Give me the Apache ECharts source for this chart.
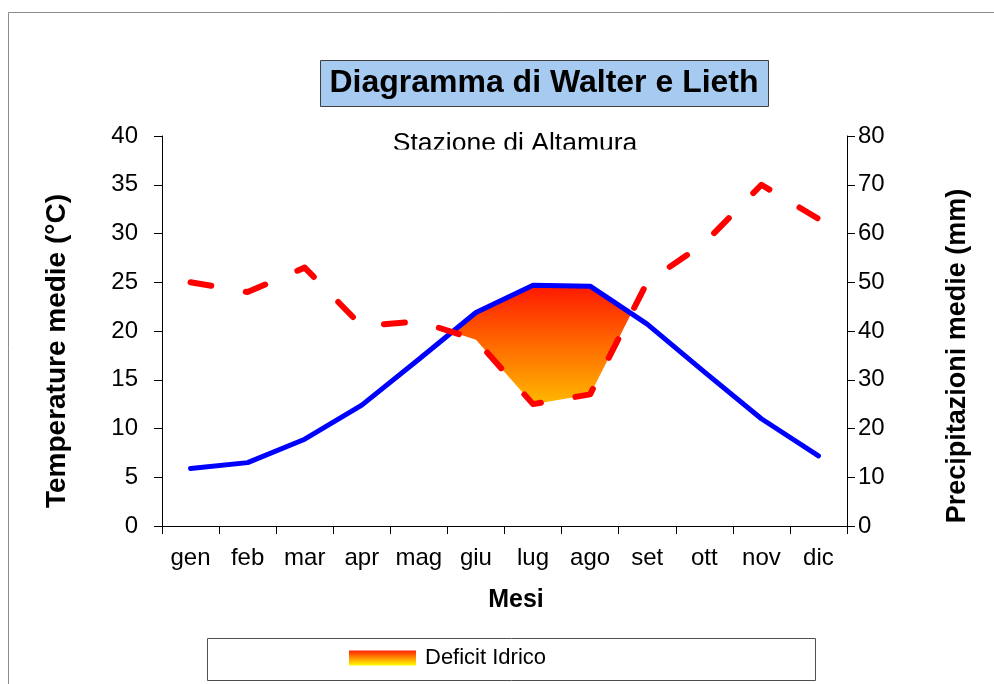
<!DOCTYPE html>
<html>
<head>
<meta charset="utf-8">
<script src="https://cdn.jsdelivr.net/npm/echarts@6/dist/echarts.min.js"></script>
<style>
  html, body { margin: 0; padding: 0; background: #fff; }
  #chart { width: 994px; height: 684px; }
</style>
</head>
<body>
<div id="chart"></div>
<script>
var months = ['gen', 'feb', 'mar', 'apr', 'mag', 'giu', 'lug', 'ago', 'set', 'ott', 'nov', 'dic'];
var temperature = [5.9, 6.5, 8.9, 12.4, 17.1, 21.9, 24.7, 24.6, 20.7, 15.8, 11.0, 7.2];
var precipitation = [50, 48, 53, 41, 42, 38.2, 25, 27, 50, 58, 70, 63];
var tempTicks = { min: 0, max: 40, interval: 5 };
var precTicks = { min: 0, max: 80, interval: 10 };

var FONT = '"Liberation Sans", Arial, sans-serif';

var fillGradient = {
  type: 'linear', x: 0, y: 0, x2: 0, y2: 1,
  colorStops: [
    { offset: 0, color: '#FF1800' },
    { offset: 0.5, color: '#FF6A00' },
    { offset: 1, color: '#FFB800' }
  ]
};
var legendGradient = {
  type: 'linear', x: 0, y: 0, x2: 0, y2: 1,
  colorStops: [
    { offset: 0, color: '#FF2000' },
    { offset: 0.5, color: '#FF9000' },
    { offset: 1, color: '#FFFF00' }
  ]
};

function renderDeficit(params, api) {
  var n = months.length;
  var T = [], P = [];
  for (var i = 0; i < n; i++) {
    T.push(api.coord([i, temperature[i]]));
    P.push(api.coord([i, precipitation[i] / 2]));
  }
  var polys = [];
  var cur = null;
  for (var j = 0; j < n; j++) {
    var d = P[j][1] - T[j][1];
    if (j > 0) {
      var dp = P[j - 1][1] - T[j - 1][1];
      if ((dp > 0) !== (d > 0)) {
        var t = dp / (dp - d);
        var cx = T[j - 1][0] + t * (T[j][0] - T[j - 1][0]);
        var cy = T[j - 1][1] + t * (T[j][1] - T[j - 1][1]);
        if (cur) { cur.top.push([cx, cy]); polys.push(cur); cur = null; }
        else { cur = { top: [[cx, cy]], bot: [] }; }
      }
    }
    if (d > 0) {
      if (!cur) cur = { top: [], bot: [] };
      cur.top.push(T[j]);
      cur.bot.push(P[j]);
    }
  }
  if (cur) polys.push(cur);
  var children = polys.map(function (p) {
    var pts = p.top.concat(p.bot.slice().reverse());
    return {
      type: 'polygon',
      shape: { points: pts },
      style: { fill: fillGradient, stroke: null }
    };
  });
  return { type: 'group', children: children };
}

var chart = echarts.init(document.getElementById('chart'), null, { renderer: 'canvas' });

var option = {
  animation: false,
  backgroundColor: '#fff',
  textStyle: { fontFamily: FONT },
  title: {
    text: 'Diagramma di Walter e Lieth',
    left: 544,
    top: 67,
    textAlign: 'center',
    padding: 0,
    textStyle: { fontFamily: FONT, fontSize: 32, fontWeight: 'bold', color: '#000' }
  },
  legend: {
    data: [{ name: 'Deficit Idrico', icon: 'rect', itemStyle: { color: legendGradient } }],
    left: 349,
    top: 646,
    padding: 0,
    itemWidth: 67,
    itemHeight: 15,
    selectedMode: false,
    textStyle: { fontFamily: FONT, fontSize: 22, color: '#000', lineHeight: 24, padding: [0, 0, 0, 4] }
  },
  grid: { left: 162, right: 147, top: 136, bottom: 158, containLabel: false },
  xAxis: {
    type: 'category',
    data: months,
    boundaryGap: true,
    axisLine: { lineStyle: { color: '#000', width: 1 } },
    axisTick: { show: true, interval: 0, length: 8, inside: false, lineStyle: { color: '#000' } },
    axisLabel: { interval: 0, fontFamily: FONT, fontSize: 24, color: '#000', margin: 20 },
    splitLine: { show: false }
  },
  yAxis: [
    {
      type: 'value',
      min: tempTicks.min, max: tempTicks.max, interval: tempTicks.interval,
      position: 'left',
      axisLine: { show: true, lineStyle: { color: '#000', width: 1 } },
      axisTick: { show: true, length: 8, inside: false, lineStyle: { color: '#000' } },
      axisLabel: { fontFamily: FONT, fontSize: 24, color: '#000', margin: 24 },
      splitLine: { show: false }
    },
    {
      type: 'value',
      min: precTicks.min, max: precTicks.max, interval: precTicks.interval,
      position: 'right',
      axisLine: { show: true, lineStyle: { color: '#000', width: 1 } },
      axisTick: { show: true, length: 8, inside: false, lineStyle: { color: '#000' } },
      axisLabel: { fontFamily: FONT, fontSize: 24, color: '#000', margin: 11 },
      splitLine: { show: false }
    }
  ],
  series: [
    {
      name: 'Deficit Idrico',
      type: 'custom',
      xAxisIndex: 0,
      yAxisIndex: 0,
      silent: true,
      z: 2,
      itemStyle: { color: legendGradient },
      renderItem: renderDeficit,
      data: [[0, 0]]
    },
    {
      name: 'Temperature medie',
      type: 'line',
      yAxisIndex: 0,
      data: temperature,
      symbol: 'none',
      z: 3,
      lineStyle: { color: '#0000FF', width: 5, cap: 'round', join: 'round' }
    },
    {
      name: 'Precipitazioni medie',
      type: 'line',
      yAxisIndex: 1,
      data: precipitation,
      symbol: 'none',
      z: 4,
      lineStyle: { color: '#FF0000', width: 6, type: [21, 35], cap: 'round', join: 'round' }
    }
  ],
  graphic: [
    { type: 'rect', z: 0, shape: { x: 8.5, y: 12.5, width: 1000, height: 700 }, style: { fill: null, stroke: '#8c8c8c', lineWidth: 1 }, silent: true },
    { type: 'rect', z: 0, shape: { x: 320.5, y: 60.5, width: 448, height: 46 }, style: { fill: '#A6CAF0', stroke: '#404040', lineWidth: 1 }, silent: true },
    { type: 'rect', z: 0, shape: { x: 207.5, y: 638.5, width: 608, height: 42 }, style: { fill: '#fff', stroke: '#505050', lineWidth: 1 }, silent: true },
    { type: 'text', z: 0, x: 515, y: 130, style: { text: 'Stazione di Altamura', fontFamily: FONT, fontSize: 26.5, fill: '#000', textAlign: 'center', textVerticalAlign: 'top' }, silent: true },
    { type: 'rect', z: 1, shape: { x: 370, y: 149.5, width: 290, height: 16 }, style: { fill: '#ffffff', stroke: null }, silent: true },
    { type: 'text', z: 0, x: 57, y: 351, rotation: Math.PI / 2, style: { text: 'Temperature medie (°C)', fontFamily: FONT, fontSize: 28, fontWeight: 'bold', fill: '#000', textAlign: 'center', textVerticalAlign: 'middle' }, silent: true },
    { type: 'text', z: 0, x: 958, y: 356, rotation: Math.PI / 2, style: { text: 'Precipitazioni medie (mm)', fontFamily: FONT, fontSize: 27, fontWeight: 'bold', fill: '#000', textAlign: 'center', textVerticalAlign: 'middle' }, silent: true },
    { type: 'text', z: 0, x: 516, y: 600, style: { text: 'Mesi', fontFamily: FONT, fontSize: 25, fontWeight: 'bold', fill: '#000', textAlign: 'center', textVerticalAlign: 'middle' }, silent: true }
  ]
};

chart.setOption(option);
</script>
</body>
</html>
